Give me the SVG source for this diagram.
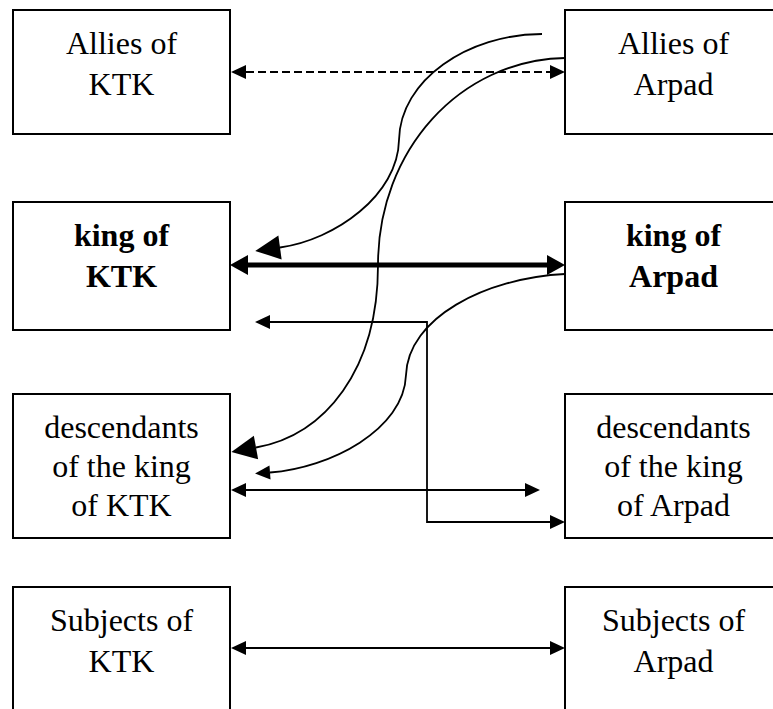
<svg xmlns="http://www.w3.org/2000/svg" width="773" height="709" viewBox="0 0 773 709">
<style>
.box{fill:#fff;stroke:#000;stroke-width:2}
.t{font-family:"Liberation Serif","Times New Roman",serif;font-size:32px;fill:#000;text-anchor:middle}
.b{font-weight:bold}
.c{fill:none;stroke:#000;stroke-width:1.8}
.dash{stroke-dasharray:8 4}
.thick{stroke-width:5}
</style>
<defs>
<marker id="aS" markerUnits="userSpaceOnUse" markerWidth="16" markerHeight="15" refX="0" refY="7" orient="auto-start-reverse" overflow="visible"><path d="M0,0 L15,7 L0,14 z" fill="#000"/></marker>
<marker id="aT" markerUnits="userSpaceOnUse" markerWidth="19" markerHeight="21" refX="0" refY="10" orient="auto-start-reverse" overflow="visible"><path d="M0,0 L18,10 L0,20 z" fill="#000"/></marker>
<marker id="aB" markerUnits="userSpaceOnUse" markerWidth="27" markerHeight="25" refX="0" refY="12" orient="auto" overflow="visible"><path d="M0,0 L25,12 L0,24 z" fill="#000"/></marker>
</defs>
<g id="allies-ktk"><rect class="box" x="13" y="10" width="217" height="124"/><text class="t" x="121.5" y="54">Allies of</text><text class="t" x="121.5" y="95">KTK</text></g>
<g id="allies-arpad"><rect class="box" x="565" y="10" width="217" height="124"/><text class="t" x="673.5" y="54">Allies of</text><text class="t" x="673.5" y="95">Arpad</text></g>
<g id="king-ktk"><rect class="box" x="13" y="202" width="217" height="128"/><text class="t b" x="121.5" y="246">king of</text><text class="t b" x="121.5" y="287">KTK</text></g>
<g id="king-arpad"><rect class="box" x="565" y="202" width="217" height="128"/><text class="t b" x="673.5" y="246">king of</text><text class="t b" x="673.5" y="287">Arpad</text></g>
<g id="desc-ktk"><rect class="box" x="13" y="394" width="217" height="144"/><text class="t" x="121.5" y="438">descendants</text><text class="t" x="121.5" y="477">of the king</text><text class="t" x="121.5" y="516">of KTK</text></g>
<g id="desc-arpad"><rect class="box" x="565" y="394" width="217" height="144"/><text class="t" x="673.5" y="438">descendants</text><text class="t" x="673.5" y="477">of the king</text><text class="t" x="673.5" y="516">of Arpad</text></g>
<g id="subj-ktk"><rect class="box" x="13" y="587" width="217" height="150"/><text class="t" x="121.5" y="631">Subjects of</text><text class="t" x="121.5" y="672">KTK</text></g>
<g id="subj-arpad"><rect class="box" x="565" y="587" width="217" height="150"/><text class="t" x="673.5" y="631">Subjects of</text><text class="t" x="673.5" y="672">Arpad</text></g>
<g id="connectors">
<line class="c dash" x1="246" y1="72" x2="550" y2="72" marker-start="url(#aS)" marker-end="url(#aS)"/>
<line class="c thick" x1="248" y1="265" x2="547" y2="265" marker-start="url(#aT)" marker-end="url(#aT)"/>
<path class="c" d="M542,34 C468,34 400,80 399,140 C398,195 335,240 280,247.5" marker-end="url(#aB)"/>
<path class="c" d="M565,58 C460,60 378,150 378,265 C378,370 325,435 256,447.5" marker-end="url(#aB)"/>
<path class="c" d="M565,274 C485,278 408,318 406,375 C404,430 330,468 270,472.5" marker-end="url(#aS)"/>
<path class="c" d="M270,322 L427,322 L427,522 L550,522" marker-start="url(#aS)" marker-end="url(#aS)"/>
<line class="c" x1="246" y1="490" x2="525" y2="490" marker-start="url(#aS)" marker-end="url(#aS)"/>
<line class="c" x1="246" y1="648" x2="550" y2="648" marker-start="url(#aS)" marker-end="url(#aS)"/>
</g>
</svg>
